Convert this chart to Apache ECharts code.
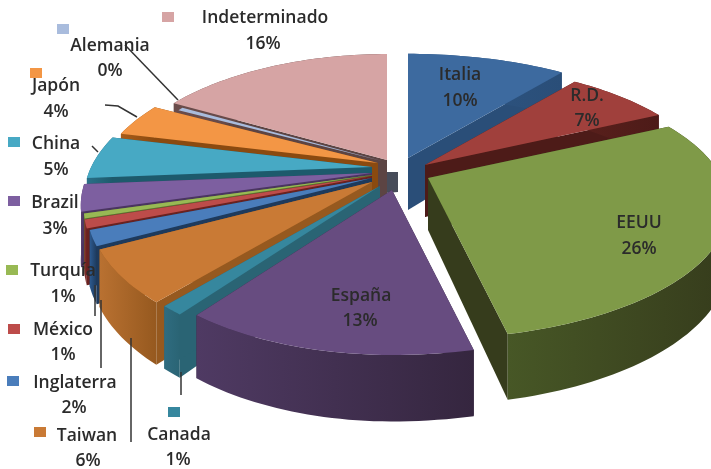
<!DOCTYPE html>
<html>
<head>
<meta charset="utf-8">
<style>
  html, body { margin: 0; padding: 0; background: #fff; }
  #main { width: 711px; height: 469px; }
</style>
</head>
<body>
<div id="main"></div>
<script src="https://cdn.jsdelivr.net/npm/echarts@6/dist/echarts.min.js"></script>
<script>
// data, clockwise from 12 o'clock
var categories = ['Italia', 'R.D.', 'EEUU', 'España', 'Canada', 'Taiwan', 'Inglaterra', 'México', 'Turquía', 'Brazil', 'China', 'Japón', 'Alemania', 'Indeterminado'];
var values = [9.6, 6.6, 26.49, 12.5, 1.0, 5.6, 1.6, 0.9, 0.5, 2.8, 4.6, 3.6, 0.4, 15.5];

// style per slice: top, radial wall, outer wall left/right
var topColors = ['#3d6a9f', '#a0403c', '#7f9a48', '#674c80', '#36879e', '#c97a35', '#4a7dbb', '#bd4c4a', '#98b954', '#7d5fa0', '#47a9c4', '#f39645', '#a9bcdd', '#d6a4a4'];
var wallColors = ['#2a4e78', '#4d1b18', '#363c1c', '#35263f', '#2a6474', '#96591f', '#1e3a5c', '#6a2220', '#5a7030', '#4a3560', '#1d5a6c', '#8a4a10', '#6a7a94', '#5c4443'];
var wallLight = ['#2f5785', '#5a201c', '#475726', '#4f3a63', '#2f6c80', '#b97131', '#2c5a90', '#8a3230', '#6a8038', '#5a4070', '#2a7088', '#a85c18', '#7a8aa4', '#6a4c4b'];
var hubColor = '#474c59';
// explode offset in px and radius factor for each slice
var pullX = [20, 37, 40, 4, -8, -16, -16, -16, -16, -16, -16, -10, -6, -1];
var pullY = [-14, -7, 6, 18, 14, 10, 6, 4, 3, 1, -5, -9, -11, -12];
var radiusScale = [0.98, 0.95, 0.98, 1.0, 1.02, 1.02, 1.03, 1.04, 1.04, 1.05, 1.04, 1.03, 0.93, 1];
// back to front
var drawOrder = [13, 11, 12, 10, 9, 8, 7, 6, 0, 1, 2, 5, 4, 3];

// the left half of the disc is narrower than the right in the reference
var cx = 388, cy = 172, RxRight = 300, RxLeft = 270, Ry = 129, persp = 0.218, depth = 52;

var total = values.reduce(function (a, b) { return a + b; }, 0);
var startAngles = [];
values.reduce(function (acc, v, i) {
    startAngles[i] = acc / total * Math.PI * 2;
    return acc + v;
}, 0);

// disc point to screen, nearer edge comes out bigger
function project(i, r, a) {
    var u = r * Math.sin(a), v = -r * Math.cos(a);
    var w = 1 - persp * v;
    var Rx = u < 0 ? RxLeft : RxRight;
    return [cx + pullX[i] + Rx * u / w, cy + pullY[i] + Ry * v / w, depth / w];
}

function renderSlice(params, api) {
    var i = api.value(0);
    var a0 = startAngles[i];
    var a1 = a0 + api.value(1) / total * Math.PI * 2;
    var rs = radiusScale[i];
    var apex = project(i, 0, 0);
    var arc = [];
    var n = Math.max(6, Math.ceil((a1 - a0) * 40));
    for (var k = 0; k <= n; k++) {
        arc.push(project(i, rs, a0 + (a1 - a0) * k / n));
    }
    var top = { type: 'polygon', shape: { points: [[apex[0], apex[1]]].concat(arc.map(function (p) { return [p[0], p[1]]; })) }, style: { fill: topColors[i] } };
    // Alemania is a sliver, its walls would only paint over Japón
    if (categories[i] === 'Alemania') {
        return top;
    }
    var first = arc[0], last = arc[n];
    function down(p) { return [p[0], p[1] + p[2]]; }
    function radialWall(p, fill) {
        return {
            type: 'polygon',
            shape: { points: [[apex[0], apex[1]], [p[0], p[1]], down(p), down(apex)] },
            style: { fill: fill }
        };
    }
    var outer = arc.map(function (p) { return [p[0], p[1]]; })
        .concat(arc.slice().reverse().map(down));
    return {
        type: 'group',
        children: [
            radialWall(first, wallColors[i]),
            // the wall at 12 o'clock shows as the dark hub
            radialWall(last, categories[i] === 'Indeterminado' ? hubColor : wallColors[i]),
            {
                type: 'polygon',
                shape: { points: outer },
                style: {
                    fill: new echarts.graphic.LinearGradient(0, 0, 1, 0, [
                        { offset: 0, color: wallLight[i] },
                        { offset: 1, color: wallColors[i] }
                    ])
                }
            },
            top
        ]
    };
}

// label anchors: [name x, name y, percent x, percent y, swatch x, swatch y]
var labelAnchors = {
    'Indeterminado': [265, 18, 263, 44, 168, 17],
    'Alemania': [110, 46, 110, 71, 63, 29],
    'Japón': [56, 86, 56, 112, 36, 73],
    'China': [56, 144, 56, 170, 14, 142],
    'Brazil': [55, 203, 55, 229, 14, 201],
    'Turquía': [63, 271, 63, 297, 12, 270],
    'México': [63, 330, 63, 355, 14, 329],
    'Inglaterra': [75, 383, 74, 408, 13, 381],
    'Taiwan': [87, 436, 88, 461, 40, 432],
    'Canada': [179, 435, 178, 460, 174, 412],
    'España': [361, 296, 360, 321],
    'EEUU': [639, 223, 639, 249],
    'Italia': [460, 75, 460, 101],
    'R.D.': [587, 96, 587, 121]
};
var leaderLines = [
    [[125, 45], [178, 100]],
    [[105, 105], [118, 106], [137, 117]],
    [[92, 146], [98, 152]],
    [[181, 372], [181, 395]],
    [[131, 338], [131, 442]],
    [[101, 300], [101, 368]],
    [[95, 285], [95, 316]]
];

var textStyle = { font: '600 17.5px "Open Sans"', fill: '#2b2b2b', textAlign: 'center', textVerticalAlign: 'middle' };
var graphics = [
    // gap behind the hub
    { type: 'polygon', z: 1, shape: { points: [[372, 172], [398, 172], [398, 192], [372, 194]] }, style: { fill: hubColor } }
];
leaderLines.forEach(function (pts) {
    graphics.push({ type: 'polyline', z: 10, shape: { points: pts }, style: { stroke: '#333', lineWidth: 1.5, fill: null } });
});
categories.forEach(function (name, i) {
    var p = labelAnchors[name];
    graphics.push({ type: 'text', z: 20, x: p[0], y: p[1], style: Object.assign({ text: name }, textStyle) });
    graphics.push({ type: 'text', z: 20, x: p[2], y: p[3], style: Object.assign({ text: Math.round(values[i]) + '%' }, textStyle) });
    if (p[4] !== undefined) {
        graphics.push({ type: 'rect', z: 20, shape: { x: p[4] - 6, y: p[5] - 5, width: 12, height: 10 }, style: { fill: topColors[i] } });
    }
});

var myChart = echarts.init(document.getElementById('main'));
myChart.setOption({
    animation: false,
    backgroundColor: '#fff',
    series: [{
        type: 'custom',
        coordinateSystem: 'none',
        renderItem: renderSlice,
        data: drawOrder.map(function (i) { return [i, values[i]]; })
    }],
    graphic: graphics
});
</script>
</body>
</html>
